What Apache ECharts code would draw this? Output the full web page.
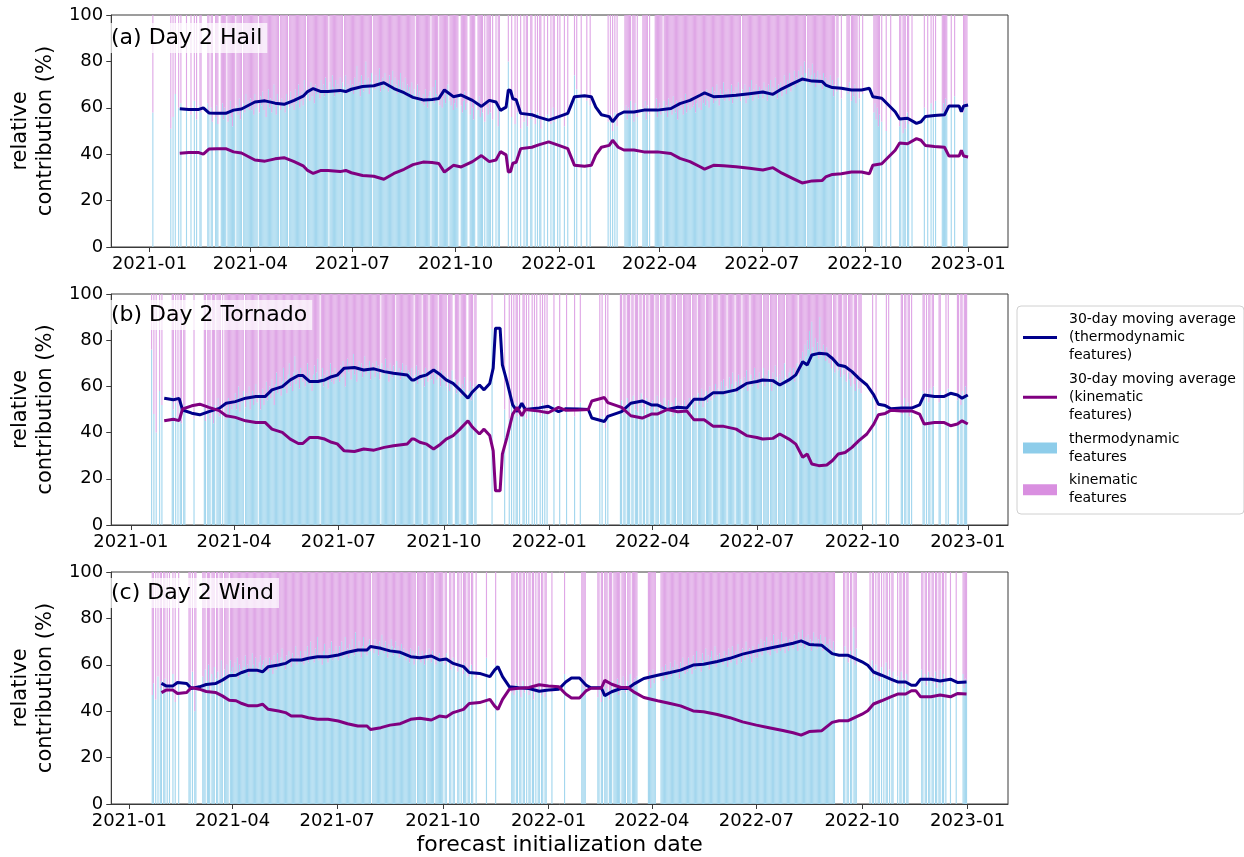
<!DOCTYPE html>
<html>
<head>
<meta charset="utf-8">
<script src="https://cdn.jsdelivr.net/npm/echarts@6/dist/echarts.min.js"></script>
<style>
  html, body { margin: 0; padding: 0; background: #ffffff; }
  #chart { width: 1244px; height: 857px; }
</style>
</head>
<body>
<div id="chart"></div>
<script>
const _ = null;

// x-axis tick labels (month starts)
const tickLabels = ['2021-01', '2021-04', '2021-07', '2021-10', '2022-01', '2022-04', '2022-07', '2022-10', '2023-01'];
const panelTitles = ['(a) Day 2 Hail', '(b) Day 2 Tornado', '(c) Day 2 Wind'];
const seriesNames = [
  '30-day moving average\n(thermodynamic\nfeatures)',
  '30-day moving average\n(kinematic\nfeatures)',
  'thermodynamic\nfeatures',
  'kinematic\nfeatures'
];

// Daily thermodynamic share (%) per forecast day, one row per month from 2021-01 to 2022-12.
// The kinematic share of a day is the remainder up to 100.
const hailThermo = [
  [_,_,_,58,_,_,_,_,_,_, _,_,_,_,_,_,_,_,_,51, _,56,_,66,_,_,60,_,62,_, _],
  [_,_,60,_,_,_,57,_,_,63, _,55,_,_,61,58,_,_,_,_, _,62,57,_,60,54,_,_],
  [56,61,53,_,_,58,62,55,60,57, _,54,59,63,56,52,60,58,_,61, 57,64,55,59,_,62,58,66,60,63, 59],
  [64,59,62,57,66,60,63,_,58,65, 61,67,59,63,56,62,68,60,64,58, 63,70,61,57,66,62,_,59,64,61],
  [62,58,66,63,_,60,67,61,64,59, 68,62,65,70,60,63,67,61,72,64, _,66,69,63,71,65,68,62,70,66, 67],
  [69,64,72,67,70,65,73,68,66,_, 71,67,74,69,65,72,68,70,66,73, 67,71,_,69,74,66,70,68,72,67],
  [70,66,73,68,78,69,71,65,74,70, 67,72,80,69,73,66,71,75,_,70, 68,74,69,72,77,67,71,73,68,75, 70],
  [71,67,74,69,72,76,68,73,70,66, 72,69,75,67,71,68,73,65,70,67, 69,64,71,66,68,_,65,70,63,67, 64],
  [62,66,61,68,63,60,65,67,_,64, 69,62,72,66,63,_,61,65,60,64, 67,62,66,70,_,63,61,65,59,62],
  [64,60,66,_,_,61,58,63,67,59, 62,_,_,57,64,60,55,63,_,_, 59,65,56,61,58,_,54,_,60,57, 62],
  [58,_,55,_,_,62,_,52,60,_, _,_,_,_,_,_,80,_,_,56, _,_,53,_,58,_,_,51,_,_],
  [54,_,57,52,_,_,59,55,_,_, 53,_,58,_,56,51,_,_,55,_, _,57,_,_,53,_,60,54,_,_, 56],
  [_,56,_,_,_,52,_,_,58,_, _,_,_,_,74,_,68,_,_,_, 66,_,_,_,_,63,_,_,61,_, _],
  [_,_,_,_,_,_,_,_,_,_, _,_,_,54,_,57,_,50,_,58, _,52,_,_,_,_,_,_],
  [58,61,55,60,57,63,_,59,54,62, _,56,_,_,_,_,60,58,63,55, 61,_,57,_,_,_,_,59,64,56, 60],
  [62,57,60,_,63,58,61,56,64,59, 62,57,65,60,58,63,55,61,59,64, 60,57,62,66,58,61,63,59,65,60],
  [61,64,58,62,66,60,63,59,67,62, 65,61,68,63,60,66,64,69,62,67, 63,70,65,61,68,66,64,71,63,67, 65],
  [68,63,66,70,62,67,65,69,64,71, 66,63,_,68,65,70,62,67,64,69, 66,72,63,68,65,70,67,64,69,66],
  [68,64,71,66,69,63,70,67,72,65, 69,66,73,68,64,70,67,71,65,69, 74,68,66,72,69,75,67,71,70,76, 69],
  [73,70,76,72,78,74,71,80,75,_, 72,77,70,74,79,71,75,69,73,76, 70,74,72,68,75,71,73,69,72,70, 74],
  [68,72,65,70,_,67,73,_,_,64, _,_,_,_,69,66,71,_,63,68, 65,70,62,67,_,64,_,_,66,_],
  [_,_,_,_,_,_,_,_,58,62, 55,60,52,57,_,54,_,_,_,50, _,_,_,56,_,_,_,_,_,_, _],
  [52,56,_,49,55,51,_,58,53,_, _,54,_,_,_,_,_,_,_,_, _,_,60,_,_,57,_,_,62,_],
  [59,_,63,_,_,_,_,_,58,62, 56,64,60,_,_,_,61,_,_,65, _,_,_,_,_,_,_,58,63,60, 62]
];

const tornadoThermo = [
  [_,_,_,_,_,_,_,_,_,_, _,_,_,_,_,_,_,_,76,_, 48,_,40,_,_,58,_,52,_,_, _],
  [_,_,_,_,_,56,50,_,53,_, 47,_,55,44,_,49,52,_,_,_, _,_,_,_,46,_,_,_],
  [_,_,_,_,_,51,45,_,49,53, 46,_,50,44,52,_,48,55,47,50, _,49,_,53,46,51,55,48,52,50, 54],
  [52,57,50,55,60,49,56,53,58,_, 51,57,54,60,50,55,58,52,56,61, 53,_,57,50,55,59,52,56,62,54],
  [57,60,55,63,58,52,61,66,57,60, 64,56,62,68,59,63,57,65,70,60, 64,58,66,73,61,67,63,59,68,64, 62],
  [66,60,64,70,61,67,63,58,65,69, 62,66,72,61,_,64,68,60,65,63, 67,59,64,70,62,66,61,68,63,65],
  [66,62,69,64,71,65,60,68,72,66, 70,63,67,74,65,69,62,68,71,66, 70,64,68,73,65,69,67,71,63,68, 70],
  [68,64,71,66,69,63,_,70,67,65, 72,66,68,62,70,67,64,69,66,_, 71,65,68,63,67,70,64,66,69,65, 67],
  [66,63,68,62,_,65,69,61,67,64, 63,_,66,60,68,64,62,_,67,63, 65,61,66,69,63,_,64,60,67,65],
  [62,66,60,_,64,58,61,67,_,_, 63,57,60,62,_,56,61,59,64,55, _,_,58,62,54,60,_,57,61,_, _],
  [_,_,_,_,_,_,_,_,_,_, _,85,_,_,_,_,_,_,_,_, _,_,50,_,_,_,46,_,52,_],
  [49,_,53,47,_,51,_,_,48,52, _,46,_,50,_,_,54,_,49,_, 51,_,_,47,_,53,_,50,_,48, _],
  [_,_,_,_,52,_,_,_,_,48, _,_,_,_,_,51,_,_,_,_, _,_,47,_,_,_,_,53,_,_, _],
  [_,_,_,_,_,_,_,_,_,_, _,_,_,44,_,47,_,_,42,_, 46,_,_,_,_,_,_,_],
  [_,_,_,50,54,_,48,52,_,55, 51,47,_,53,56,_,50,54,49,_, 52,57,_,51,48,_,55,52,_,50, 53],
  [54,49,_,52,56,50,_,53,48,51, 55,_,52,49,54,50,_,53,47,51, 55,_,50,53,48,52,_,51,54,49],
  [52,48,55,51,_,53,56,50,54,_, 57,52,55,59,51,56,_,58,53,57, 60,54,_,58,55,61,56,59,_,57, 62],
  [58,63,56,60,_,59,64,57,61,66, 58,_,62,57,65,60,63,_,59,64, 61,67,58,62,_,65,60,63,68,61],
  [64,59,66,61,63,_,68,60,65,62, 67,_,63,58,66,61,69,64,_,62, 65,60,67,63,70,_,64,61,66,68, 63],
  [64,68,62,66,70,_,65,72,68,75, 70,78,73,80,76,84,72,88,77,74, 81,75,79,72,90,76,73,78,74,71, 77],
  [75,70,73,68,_,72,66,70,_,67, 71,64,69,_,65,68,62,_,66,63, 60,65,_,61,58,63,_,59,62,57],
  [_,_,_,_,_,_,_,_,_,55, _,_,50,_,_,_,_,_,_,_, _,52,_,48,_,_,_,_,_,_, _],
  [_,_,_,52,48,_,55,50,_,53, 47,_,51,_,_,_,_,_,_,_, _,_,58,54,_,57,_,53,59,_],
  [56,60,_,_,_,_,53,58,_,_, _,_,55,_,59,_,_,_,_,_, _,_,54,57,_,52,58,_,55,60, 56]
];

const windThermo = [
  [_,_,_,_,_,_,_,_,_,_, _,_,_,_,_,_,_,_,_,_, 47,52,_,45,_,55,_,50,53,_, 49],
  [54,_,48,_,51,_,_,56,_,44, _,_,52,_,_,_,_,_,_,_, _,53,48,_,57,_,40,51],
  [_,_,_,_,_,55,50,58,_,53, 60,48,_,56,52,59,_,54,57,_, 51,62,55,_,58,53,60,56,_,62, 57],
  [59,55,61,57,63,54,60,58,56,62, 59,64,57,60,55,62,58,65,60,57, 63,59,56,61,64,58,60,62,57,63],
  [60,57,63,59,62,56,64,60,58,65, 61,59,63,67,60,62,58,64,61,66, 62,59,65,61,63,68,60,64,62,66, 61],
  [63,60,66,62,68,61,64,70,63,65, 61,67,63,72,62,65,64,60,66,69, 63,65,61,67,64,70,62,66,63,68],
  [65,62,68,64,70,63,66,72,64,67, 63,69,65,71,66,64,74,67,65,70, 66,63,68,72,65,67,64,69,71,66, _],
  [68,65,71,67,69,64,70,66,73,68, 65,70,67,63,69,66,71,68,64,67, 70,65,68,63,66,69,64,67,65,62, 66],
  [64,61,67,63,66,60,65,_,62,68, 64,61,66,63,60,65,_,62,67,64, 61,66,63,_,60,64,62,65,61,63],
  [62,_,60,65,_,_,61,58,_,63, 59,_,_,57,62,_,60,_,56,61, 58,_,55,59,_,60,57,_,_,54, _],
  [_,_,_,_,_,_,_,63,_,_, _,_,_,_,_,60,_,_,_,_, _,_,_,_,_,_,_,_,_,48],
  [50,47,_,52,49,_,51,46,_,53, 48,_,50,_,47,52,_,49,45,_, 51,_,48,53,_,47,50,_,46,52, _],
  [_,_,_,48,_,_,_,_,_,_, _,_,_,_,56,_,_,_,_,_, _,_,_,_,_,_,_,_,_,53, 50],
  [55,49,_,_,_,_,_,_,_,_, _,_,46,50,_,44,48,_,52,47, 50,_,45,49,53,_,48,51],
  [50,54,47,52,_,49,55,51,48,_, 53,50,56,_,52,49,54,51,55,_, _,_,_,_,_,_,_,_,53,57, 50],
  [54,58,52,56,_,_,_,_,55,59, 53,57,60,54,58,56,61,55,59,57, 62,56,60,58,54,61,57,63,59,56],
  [60,57,63,59,61,56,64,60,58,66, 61,59,63,57,65,62,60,67,61,64, 58,63,66,60,62,68,59,64,61,65, 62],
  [63,60,66,62,64,59,67,63,61,68, 64,62,66,60,69,63,65,61,67,64, 62,70,65,63,67,64,61,68,66,63],
  [66,63,69,65,71,64,67,70,66,72, 65,68,64,70,67,73,66,69,65,71, 68,66,74,67,70,65,72,68,66,71, 69],
  [70,67,73,69,71,66,74,70,68,75, 71,67,72,69,73,68,71,66,70,74, 69,72,67,71,68,73,70,66,69,72, 68],
  [69,65,71,67,64,70,66,_,_,_, _,_,_,_,63,68,_,65,61,_, 66,62,_,76,60,67,_,_,_,_],
  [_,_,_,_,_,_,_,58,_,62, 55,_,60,_,57,53,_,59,_,56, _,61,54,_,58,_,52,57,_,_, _],
  [55,_,51,57,_,54,50,_,56,52, _,_,_,_,_,_,_,_,_,_, _,58,53,_,56,51,_,57,54,_],
  [55,52,_,57,50,_,54,58,_,51, 56,_,53,_,_,_,55,_,_,_, _,52,_,_,_,_,_,56,50,54, 53]
];

// 30-day moving average of the thermodynamic share: [day since 2021-01-01, %]
const hailAvg = [
  [27,59.6],[35,59.3],[44,59.3],[48,60],[53,57.8],[60,57.6],[68,57.6],[75,59],[82,59.5],[88,61],
  [94,62.5],[103,63],[112,62],[120,61.5],[129,63.2],[137,65],[141,67],[146,68.3],[153,67],[159,67],
  [170,67.5],[175,67],[180,68],[190,69.2],[200,69.5],[209,70.8],[218,68.3],[227,66.5],[235,64.5],[244,63.4],
  [252,63.6],[258,64],[263,67.7],[271,64.8],[278,65.5],[288,63.2],[296,60.6],[303,63.2],[309,62.5],[313,58.9],
  [318,60.3],[320,67.7],[322,67.5],[324,63.9],[327,63.5],[331,57.6],[341,57],[347,56],[356,54.7],[365,56.2],
  [373,57.6],[379,64.8],[388,65.2],[394,64.8],[398,60.3],[403,57],[410,56.2],[413,54],[418,57],[423,58.2],
  [432,58.2],[441,59],[453,59],[465,59.7],[473,61.8],[482,63.2],[491,65.4],[495,66.4],[503,64.8],[512,65],
  [523,65.4],[535,66.1],[547,66.8],[556,65.8],[564,68.2],[573,70.3],[582,72.4],[591,71.5],[600,71.3],[603,69.8],
  [609,68.7],[617,68.4],[626,67.7],[635,67.7],[642,68.4],[645,64.8],[653,64.1],[659,61.2],[665,58.3],[669,55.2],
  [676,55.5],[684,53.3],[688,54],[692,56.3],[700,56.7],[709,57],[713,60.8],[722,60.8],[724,58.3],[726,60.8],[730,61.2]
];

const tornadoAvg = [
  [29,54.9],[37,54.2],[42,54.8],[45,49.8],[53,48.4],[60,47.7],[68,49.1],[77,50.5],[83,52.7],[91,53.4],
  [100,54.9],[109,55.6],[117,55.6],[123,58.5],[132,59.9],[139,62.8],[146,64.7],[150,64.7],[156,62.1],[163,62.1],
  [169,62.8],[175,64.2],[180,64.9],[186,67.9],[195,68.2],[203,67.1],[212,67.6],[221,66.4],[229,65.7],[241,64.9],
  [245,62.8],[247,62.8],[252,64.2],[258,65],[264,67.1],[270,65],[275,62.8],[281,61.3],[287,58.5],[294,54.9],
  [298,57.7],[304,60.6],[308,58.5],[313,61.3],[316,67.9],[318,85.2],[322,85.2],[324,69.3],[328,62.1],[333,52],
  [337,49.1],[341,52.7],[344,50],[356,50.7],[364,51.4],[373,49.1],[379,50.3],[390,50.2],[399,50],[402,46.3],
  [413,44.8],[416,47],[428,49.1],[436,52.7],[446,53.7],[454,52],[459,52],[468,50],[477,51],[485,50.7],
  [491,54.4],[500,54.4],[508,57.3],[517,57.3],[528,58.5],[537,61.3],[546,62.1],[551,62.8],[560,62.5],[566,60.6],
  [574,62.8],[580,65],[586,70.7],[590,69.3],[594,73.6],[600,74.3],[607,74],[612,72.1],[617,69.3],[623,68.6],
  [629,66.4],[635,63.5],[642,60.6],[648,56.3],[652,52.3],[658,51.7],[663,50.3],[672,50.6],[681,50.6],[688,52],
  [692,56.3],[701,55.6],[709,55.6],[715,57],[721,56.3],[725,54.9],[730,56.3]
];

const windAvg = [
  [28,52],[32,50.9],[38,50.9],[42,52.4],[50,51.9],[54,49.8],[61,50.5],[67,51.5],[75,51.9],[81,53.4],
  [87,55.3],[93,55.5],[98,56.7],[104,57.7],[111,57.7],[116,57],[121,59.2],[130,59.9],[136,60.6],[141,62.1],
  [150,62.1],[156,62.8],[164,63.5],[173,63.5],[182,64.2],[190,65.4],[199,66.4],[207,66.4],[210,67.9],[219,67.1],
  [227,66],[236,65.4],[245,63.5],[253,63],[263,63.8],[270,62.1],[276,62.5],[282,60.6],[291,59.2],[296,56.7],
  [305,56.3],[314,54.9],[318,57.7],[321,59.2],[325,54.9],[331,50.5],[339,50.1],[348,49.8],[357,48.6],[365,49.1],
  [374,49.5],[380,52.6],[385,54.3],[392,54.3],[398,51.1],[402,50.1],[411,50.1],[414,46.7],[420,48.4],[428,49.8],
  [434,49.8],[440,51.9],[448,54.1],[460,55.5],[471,56.7],[480,57.7],[491,59.9],[500,60.2],[512,61.4],[523,62.8],
  [534,64.6],[546,66],[557,67.1],[569,68.3],[578,69.3],[585,70.3],[592,68.8],[596,68.6],[603,68.4],[612,64.8],
  [618,64.1],[626,64.1],[632,62.7],[638,61.3],[643,59.8],[648,56.9],[655,55.5],[663,53.8],[669,52.6],[676,52.6],
  [681,51.2],[685,51.2],[689,53.8],[698,53.8],[706,53],[715,53.8],[721,52.4],[729,52.6]
];

const FONT = "'DejaVu Sans', sans-serif";
const COLORS = {
  thermoLine: '#00008b',
  kinLine: '#800080',
  thermoBar: '#a4d7ee',
  kinBar: '#dfa7e6',
  thermoIcon: '#8ecdea',
  kinIcon: '#d98fe0',
  frame: '#3a3a3a'
};

const DAY0 = Date.UTC(2021, 0, 1);
const MS_DAY = 86400000;
function dayOfLabel(label) {
  const parts = label.split('-').map(Number);
  return (Date.UTC(parts[0], parts[1] - 1, 1) - DAY0) / MS_DAY;
}
function monthStartDay(m) {
  return (Date.UTC(2021 + Math.floor(m / 12), m % 12, 1) - DAY0) / MS_DAY;
}
const tickDays = tickLabels.map(dayOfLabel);
const labelByDay = {};
tickDays.forEach((d, i) => { labelByDay[d] = tickLabels[i]; });

// flatten monthly rows into [day, value] pairs, skipping days without a forecast
function dailyPoints(rows) {
  const pts = [];
  rows.forEach((row, m) => {
    const start = monthStartDay(m);
    row.forEach((v, i) => { if (v !== null) pts.push([start + i, v]); });
  });
  return pts;
}

// bar drawn one day wide, either from 0 up (thermodynamic) or from 100 down (kinematic)
function dayBar(fromTop) {
  return function (params, api) {
    const d = api.value(0);
    const v = api.value(1);
    const lo = fromTop ? 100 - v : 0;
    const hi = fromTop ? 100 : v;
    const a = api.coord([d - 0.5, hi]);
    const b = api.coord([d + 0.5, lo]);
    return {
      type: 'rect',
      shape: { x: a[0], y: a[1], width: b[0] - a[0], height: b[1] - a[1] },
      style: { fill: api.visual('color') }
    };
  };
}

const panels = [
  { thermo: hailThermo, avg: hailAvg, grid: { left: 101, top: 15, width: 907, height: 232 }, xRange: [-34.1, 765.6], titleTop: 23 },
  { thermo: tornadoThermo, avg: tornadoAvg, grid: { left: 101, top: 294, width: 907, height: 231 }, xRange: [-17.2, 765.1], titleTop: 300 },
  { thermo: windThermo, avg: windAvg, grid: { left: 101, top: 572, width: 907, height: 232 }, xRange: [-15.7, 765.1], titleTop: 578 }
];

const grids = [], xAxes = [], yAxes = [], series = [], titles = [];

panels.forEach((p, i) => {
  grids.push(Object.assign({ show: true, borderColor: COLORS.frame, borderWidth: 1, backgroundColor: 'transparent' }, p.grid));

  xAxes.push({
    type: 'value', gridIndex: i, min: p.xRange[0], max: p.xRange[1],
    axisLine: { show: true, onZero: false, lineStyle: { color: COLORS.frame, width: 1 } },
    axisTick: { show: true, length: 5, lineStyle: { color: COLORS.frame }, customValues: tickDays },
    axisLabel: {
      customValues: tickDays, margin: 8, fontSize: 18, color: '#000', fontFamily: FONT,
      formatter: v => labelByDay[Math.round(v)] || ''
    },
    splitLine: { show: false },
    name: i === 2 ? 'forecast initialization date' : '',
    nameLocation: 'middle', nameGap: 30,
    nameTextStyle: { fontSize: 22, color: '#000', fontFamily: FONT }
  });

  yAxes.push({
    type: 'value', gridIndex: i, min: 0, max: 100, interval: 20,
    axisLine: { show: true, onZero: false, lineStyle: { color: COLORS.frame, width: 1 } },
    axisTick: { show: true, length: 5, lineStyle: { color: COLORS.frame } },
    axisLabel: { margin: 8, fontSize: 18, color: '#000', fontFamily: FONT },
    splitLine: { show: false },
    name: 'relative\ncontribution (%)',
    nameLocation: 'middle', nameRotate: 90, nameGap: 44,
    nameTextStyle: { fontSize: 21, lineHeight: 25, color: '#000', fontFamily: FONT, align: 'center' }
  });

  titles.push({
    text: panelTitles[i], left: 106, top: p.titleTop,
    padding: [3, 5],
    backgroundColor: 'rgba(255,255,255,0.72)',
    textStyle: { fontSize: 22, lineHeight: 24, fontWeight: 'normal', color: '#000', fontFamily: FONT }
  });

  const pts = dailyPoints(p.thermo);
  series.push({
    type: 'custom', name: seriesNames[2], xAxisIndex: i, yAxisIndex: i,
    data: pts, encode: { x: 0, y: 1 }, renderItem: dayBar(false), clip: true, silent: true,
    itemStyle: { color: COLORS.thermoBar }, z: 1
  });
  series.push({
    type: 'custom', name: seriesNames[3], xAxisIndex: i, yAxisIndex: i,
    data: pts.map(q => [q[0], 100 - q[1]]), encode: { x: 0, y: 1 }, renderItem: dayBar(true), clip: true, silent: true,
    itemStyle: { color: COLORS.kinBar }, z: 1
  });
  series.push({
    type: 'line', name: seriesNames[0], xAxisIndex: i, yAxisIndex: i,
    data: p.avg, showSymbol: false, symbol: 'none', silent: true,
    lineStyle: { width: 3, color: COLORS.thermoLine }, itemStyle: { color: COLORS.thermoLine }, z: 3
  });
  series.push({
    type: 'line', name: seriesNames[1], xAxisIndex: i, yAxisIndex: i,
    data: p.avg.map(q => [q[0], 100 - q[1]]), showSymbol: false, symbol: 'none', silent: true,
    lineStyle: { width: 3, color: COLORS.kinLine }, itemStyle: { color: COLORS.kinLine }, z: 3
  });
});

const LINE_ICON = 'path://M0,0H34V3H0Z';

const chart = echarts.init(document.getElementById('chart'), null, { renderer: 'canvas' });
chart.setOption({
  animation: false,
  backgroundColor: '#ffffff',
  textStyle: { fontFamily: FONT },
  title: titles,
  grid: grids,
  xAxis: xAxes,
  yAxis: yAxes,
  legend: {
    orient: 'vertical', left: 1017, top: 306,
    itemWidth: 34, itemHeight: 11, itemGap: 5,
    symbolKeepAspect: true,
    padding: [4, 8, 6, 6],
    backgroundColor: '#ffffff', borderColor: '#d0d0d0', borderWidth: 1, borderRadius: 4,
    textStyle: { fontSize: 14, lineHeight: 18.3, color: '#000', fontFamily: FONT, padding: [0, 0, 0, 7] },
    selectedMode: false,
    data: [
      { name: seriesNames[0], icon: LINE_ICON, itemStyle: { color: COLORS.thermoLine } },
      { name: seriesNames[1], icon: LINE_ICON, itemStyle: { color: COLORS.kinLine } },
      { name: seriesNames[2], icon: 'rect', itemStyle: { color: COLORS.thermoIcon } },
      { name: seriesNames[3], icon: 'rect', itemStyle: { color: COLORS.kinIcon } }
    ]
  },
  series: series
});
</script>
</body>
</html>
